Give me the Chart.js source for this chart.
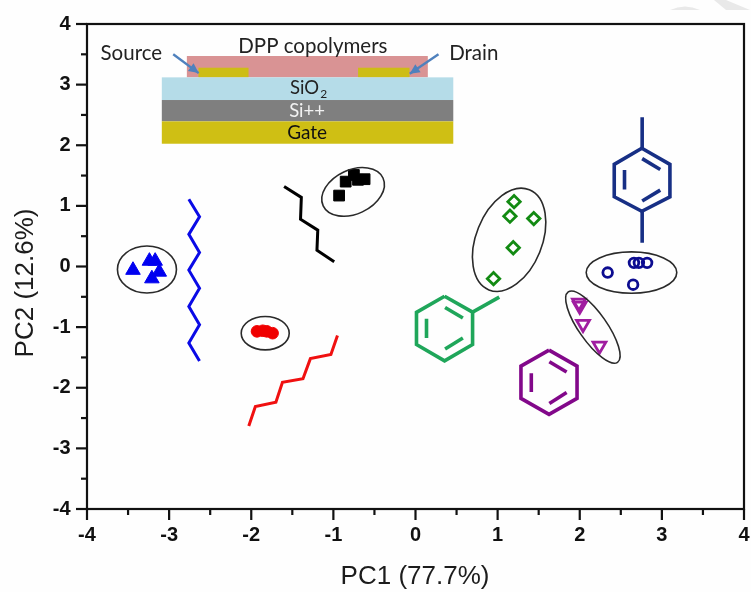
<!DOCTYPE html>
<html>
<head>
<meta charset="utf-8">
<style>
  html, body { margin: 0; padding: 0; background: #fefefe; }
  #box { width: 751px; height: 592px; }
</style>
<script src="https://cdn.jsdelivr.net/npm/chart.js@4"></script>
</head>
<body>
<div id="box"><canvas id="pcaChart" width="751" height="592"></canvas></div>
<script>
// axis ticks
const majorTicks = [-4, -3, -2, -1, 0, 1, 2, 3, 4];
const minorTicks = [-3.5, -2.5, -1.5, -0.5, 0.5, 1.5, 2.5, 3.5];
const xAxisTitle = 'PC1 (77.7%)';
const yAxisTitle = 'PC2 (12.6%)';

// score points, one [x, y] per sample
const blueTriangles = [[-3.44, -0.06], [-3.24, 0.09], [-3.17, 0.09], [-3.12, -0.09], [-3.21, -0.20]];
const redCircles = [[-1.93, -1.07], [-1.86, -1.06], [-1.81, -1.07], [-1.74, -1.10]];
const blackSquares = [[-0.93, 1.17], [-0.85, 1.40], [-0.75, 1.51], [-0.70, 1.43], [-0.62, 1.44]];
const greenDiamonds = [[0.95, -0.20], [1.19, 0.31], [1.15, 0.83], [1.44, 0.79], [1.20, 1.07]];
const navyCircles = [[2.34, -0.10], [2.65, -0.30], [2.66, 0.06], [2.72, 0.06], [2.82, 0.06]];
const purpleTriangles = [[1.99, -0.60], [2.00, -0.65], [2.04, -0.95], [2.24, -1.31]];

// alkyl side chains
const blueChain = [[-2.76, 1.11], [-2.63, 0.82], [-2.76, 0.53], [-2.63, 0.23], [-2.76, -0.06], [-2.63, -0.36], [-2.76, -0.66], [-2.63, -0.96], [-2.76, -1.26], [-2.63, -1.56]];
const blackChain = [[-1.60, 1.32], [-1.39, 1.14], [-1.40, 0.78], [-1.19, 0.60], [-1.20, 0.27], [-0.99, 0.08]];
const redChain = [[-2.03, -2.63], [-1.95, -2.31], [-1.70, -2.24], [-1.62, -1.91], [-1.37, -1.85], [-1.28, -1.52], [-1.03, -1.45], [-0.95, -1.14]];

// aromatic rings: outer hexagon, substituent bonds, inner double bonds
const greenRing = [
  [[0.354, -0.49], [0.695, -0.752], [0.695, -1.286], [0.354, -1.556], [0.012, -1.286], [0.012, -0.757], [0.354, -0.49]],
  [[0.695, -0.752], [1.02, -0.505]],
  [[0.36, -0.675], [0.577, -0.85]],
  [[0.577, -1.18], [0.36, -1.36]],
  [[0.134, -0.86], [0.134, -1.18]]
];
const purpleRing = [
  [[1.626, -1.38], [1.967, -1.644], [1.967, -2.176], [1.626, -2.44], [1.284, -2.176], [1.284, -1.644], [1.626, -1.38]],
  [[1.63, -1.57], [1.84, -1.74]],
  [[1.84, -2.08], [1.63, -2.26]],
  [[1.41, -1.76], [1.41, -2.07]]
];
const navyRing = [
  [[2.756, 1.95], [3.098, 1.685], [3.098, 1.15], [2.756, 0.91], [2.42, 1.15], [2.42, 1.685], [2.756, 1.95]],
  [[2.76, 2.46], [2.76, 1.95]],
  [[2.76, 0.91], [2.76, 0.39]],
  [[2.76, 1.78], [2.98, 1.60]],
  [[2.98, 1.26], [2.76, 1.08]],
  [[2.545, 1.59], [2.545, 1.27]]
];

// cluster ellipses, centres in data units
const ellipseCentres = [[-3.27, -0.05], [-1.83, -1.10], [-0.76, 1.23], [1.14, 0.44], [2.63, -0.10], [2.16, -1.00]];

// device stack inset, [x0, y0, x1, y1] in data units
const insetLayers = [
  [-2.784, 3.472, 0.15, 3.12],
  [-2.643, 3.279, -2.033, 3.12],
  [-0.699, 3.279, -0.073, 3.12],
  [-3.089, 3.12, 0.46, 2.746],
  [-3.089, 2.746, 0.46, 2.394],
  [-3.089, 2.394, 0.46, 2.025]
];
const insetLabels = ['DPP copolymers', 'Source', 'Drain', 'Si++', 'Gate'];
const insetLabelSpots = [[-1.25, 3.63], [-3.46, 3.52], [0.71, 3.52], [-1.32, 2.57], [-1.32, 2.2]];
const insetArrows = [
  [[-2.95, 3.5], [-2.64, 3.19]],
  [[0.28, 3.5], [-0.07, 3.18]]
];

// styling of the decorations
const ellipseShapes = [[29.5, 23.5, 0], [24, 16.7, 0], [33, 22, -25], [54, 33, -68], [45.3, 20.7, 0], [43, 14, 55]];
const insetLayerColors = ['#d99394', '#cdbd16', '#cdbd16', '#b5dce8', '#7f7f7f', '#cfbf14'];
const insetLabelColors = ['#222', '#222', '#222', '#f2f2f2', '#111'];
const insetLabelSizes = [20.5, 20.5, 20.5, 18.5, 19];

function toPoints(pairs) {
  return pairs.map(function (p) { return { x: p[0], y: p[1] }; });
}

function pathDataset(pairs, color, width) {
  return {
    data: toPoints(pairs),
    showLine: true,
    borderColor: color,
    borderWidth: width,
    borderJoinStyle: 'miter',
    pointRadius: 0,
    fill: false
  };
}

function markerDataset(pairs, style, radius, fillColor, lineColor, lineWidth, rotation) {
  return {
    data: toPoints(pairs),
    showLine: false,
    pointStyle: style,
    pointRadius: radius,
    pointBackgroundColor: fillColor,
    pointBorderColor: lineColor,
    pointBorderWidth: lineWidth,
    pointRotation: rotation || 0
  };
}

var datasets = [
  pathDataset(blueChain, '#0a0ae6', 3),
  pathDataset(blackChain, '#000000', 3),
  pathDataset(redChain, '#f01010', 3)
];
greenRing.forEach(function (part) { datasets.push(pathDataset(part, '#1fa65a', 3.6)); });
purpleRing.forEach(function (part) { datasets.push(pathDataset(part, '#82088a', 3.6)); });
navyRing.forEach(function (part) { datasets.push(pathDataset(part, '#172f85', 3.6)); });

datasets.push(markerDataset(blueTriangles, 'triangle', 8.4, '#0000f0', '#0000f0', 1));
datasets.push(markerDataset(redCircles, 'circle', 5.8, '#f00000', '#f00000', 1));
datasets.push(markerDataset(blackSquares, 'rect', 7.6, '#000000', '#000000', 1));
datasets.push(markerDataset(greenDiamonds, 'rectRot', 6.2, 'rgba(0,0,0,0)', '#128a12', 2.8));
datasets.push(markerDataset(navyCircles, 'circle', 4.8, 'rgba(0,0,0,0)', '#0c0c90', 2.8));
datasets.push(markerDataset(purpleTriangles, 'triangle', 7.4, 'rgba(0,0,0,0)', '#a01da0', 2.8, 180));

var pcaDecor = {
  id: 'pcaDecor',
  beforeDraw: function (chart) {
    // corner of the page watermark
    var ctx = chart.ctx;
    ctx.save();
    ctx.fillStyle = '#e9e9e9';
    ctx.beginPath();
    ctx.moveTo(670, 10);
    ctx.quadraticCurveTo(685, 3, 700, 10);
    ctx.closePath();
    ctx.fill();
    ctx.beginPath();
    ctx.moveTo(714, 0);
    ctx.lineTo(726, 0);
    ctx.lineTo(750, 10);
    ctx.lineTo(726, 10);
    ctx.closePath();
    ctx.fill();
    ctx.restore();
  },
  beforeDatasetsDraw: function (chart) {
    var ctx = chart.ctx;
    var xs = chart.scales.x;
    var ys = chart.scales.y;
    ctx.save();

    insetLayers.forEach(function (box, i) {
      var x0 = xs.getPixelForValue(box[0]);
      var y0 = ys.getPixelForValue(box[1]);
      ctx.fillStyle = insetLayerColors[i];
      ctx.fillRect(x0, y0, xs.getPixelForValue(box[2]) - x0, ys.getPixelForValue(box[3]) - y0);
    });

    ctx.textAlign = 'center';
    ctx.textBaseline = 'middle';
    insetLabels.forEach(function (text, i) {
      var spot = insetLabelSpots[i];
      ctx.font = insetLabelSizes[i] + 'px Lato, "Open Sans", sans-serif';
      ctx.fillStyle = insetLabelColors[i];
      ctx.fillText(text, xs.getPixelForValue(spot[0]), ys.getPixelForValue(spot[1]));
    });

    // SiO2 with a lowered 2
    var sioX = xs.getPixelForValue(-1.35);
    var sioY = ys.getPixelForValue(2.94);
    ctx.font = '18.5px Lato, "Open Sans", sans-serif';
    ctx.fillStyle = '#222';
    ctx.fillText('SiO', sioX, sioY);
    ctx.font = '12px Lato, "Open Sans", sans-serif';
    ctx.fillText('2', sioX + 19, sioY + 6);

    // blue arrows onto the electrodes
    ctx.strokeStyle = '#4f81bd';
    ctx.fillStyle = '#4f81bd';
    ctx.lineWidth = 2.4;
    insetArrows.forEach(function (arrow) {
      var ax = xs.getPixelForValue(arrow[0][0]);
      var ay = ys.getPixelForValue(arrow[0][1]);
      var bx = xs.getPixelForValue(arrow[1][0]);
      var by = ys.getPixelForValue(arrow[1][1]);
      var angle = Math.atan2(by - ay, bx - ax);
      ctx.beginPath();
      ctx.moveTo(ax, ay);
      ctx.lineTo(bx, by);
      ctx.stroke();
      ctx.beginPath();
      ctx.moveTo(bx, by);
      ctx.lineTo(bx - 11 * Math.cos(angle - 0.45), by - 11 * Math.sin(angle - 0.45));
      ctx.lineTo(bx - 11 * Math.cos(angle + 0.45), by - 11 * Math.sin(angle + 0.45));
      ctx.closePath();
      ctx.fill();
    });
    ctx.restore();
  },
  afterDatasetsDraw: function (chart) {
    var ctx = chart.ctx;
    var xs = chart.scales.x;
    var ys = chart.scales.y;
    var area = chart.chartArea;
    ctx.save();

    // cluster ellipses
    ctx.strokeStyle = '#2a2a2a';
    ctx.lineWidth = 1.6;
    ellipseCentres.forEach(function (c, i) {
      var shape = ellipseShapes[i];
      ctx.beginPath();
      ctx.ellipse(xs.getPixelForValue(c[0]), ys.getPixelForValue(c[1]), shape[0], shape[1], shape[2] * Math.PI / 180, 0, Math.PI * 2);
      ctx.stroke();
    });

    // frame and outward ticks, minor ones shorter than major
    ctx.strokeStyle = '#111';
    ctx.lineWidth = 2.2;
    ctx.strokeRect(area.left, area.top, area.right - area.left, area.bottom - area.top);
    xs.ticks.forEach(function (t) {
      var px = xs.getPixelForValue(t.value);
      ctx.beginPath();
      ctx.moveTo(px, area.bottom);
      ctx.lineTo(px, area.bottom + (t.major ? 11 : 6));
      ctx.stroke();
    });
    ys.ticks.forEach(function (t) {
      var py = ys.getPixelForValue(t.value);
      ctx.beginPath();
      ctx.moveTo(area.left, py);
      ctx.lineTo(area.left - (t.major ? 11 : 6), py);
      ctx.stroke();
    });

    // axis titles
    ctx.fillStyle = '#1c1c1c';
    ctx.font = '26px "Liberation Sans", Arial, sans-serif';
    ctx.textAlign = 'center';
    ctx.textBaseline = 'middle';
    ctx.fillText(xAxisTitle, 415, 577);
    ctx.translate(26, 283);
    ctx.rotate(-Math.PI / 2);
    ctx.fillText(yAxisTitle, 0, 0);
    ctx.restore();
  }
};

function fixedTicks(scale) {
  scale.ticks = majorTicks.map(function (v) { return { value: v, major: true }; })
    .concat(minorTicks.map(function (v) { return { value: v, major: false }; }))
    .sort(function (a, b) { return a.value - b.value; });
}

function tickLabel(value) {
  return majorTicks.indexOf(value) >= 0 ? String(value) : '';
}

function noScalePadding(scale) {
  scale.paddingLeft = 0;
  scale.paddingRight = 0;
  scale.paddingTop = 0;
  scale.paddingBottom = 0;
}

var tickFont = { family: '"Liberation Sans", Arial, sans-serif', size: 20, weight: 'bold' };

new Chart(document.getElementById('pcaChart'), {
  type: 'scatter',
  data: { datasets: datasets },
  plugins: [pcaDecor],
  options: {
    responsive: false,
    animation: false,
    // marker radius must not eat into the fixed plot box
    layout: { autoPadding: false, padding: { top: 24, right: 7, left: 0, bottom: 0 } },
    plugins: { legend: { display: false }, tooltip: { enabled: false } },
    scales: {
      x: {
        type: 'linear',
        min: -4,
        max: 4,
        afterBuildTicks: fixedTicks,
        afterFit: function (scale) { noScalePadding(scale); scale.height = 83; },
        grid: { display: false },
        border: { display: false },
        ticks: { color: '#111', font: tickFont, padding: 6, autoSkip: false, maxRotation: 0, callback: tickLabel }
      },
      y: {
        type: 'linear',
        min: -4,
        max: 4,
        afterBuildTicks: fixedTicks,
        afterFit: function (scale) { noScalePadding(scale); scale.width = 87; },
        grid: { display: false },
        border: { display: false },
        ticks: { color: '#111', font: tickFont, padding: 8.5, autoSkip: false, callback: tickLabel }
      }
    }
  }
});
</script>
</body>
</html>
